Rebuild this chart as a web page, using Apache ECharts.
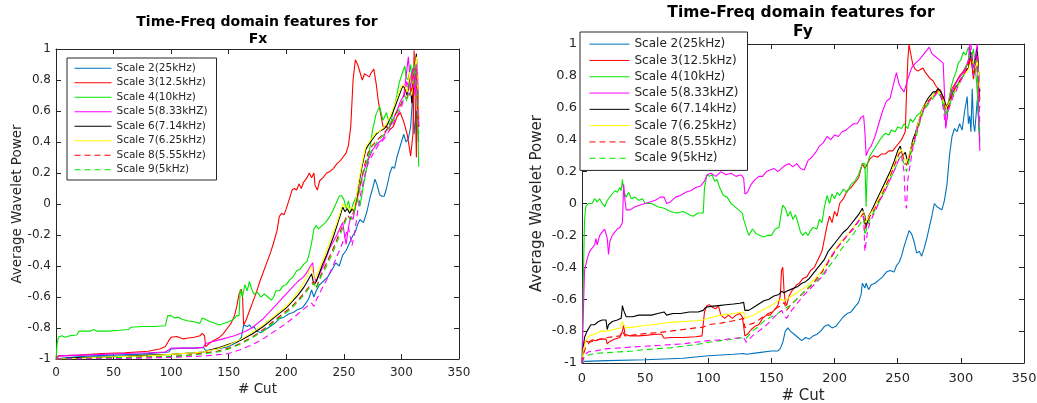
<!DOCTYPE html>
<html><head><meta charset="utf-8">
<script src="https://cdn.jsdelivr.net/npm/echarts@6/dist/echarts.min.js"></script>
<style>html,body{margin:0;padding:0;background:#fff}#c{width:1037px;height:403px}</style>
</head><body><div id="c"></div>
<script>
const legendNames = ['Scale 2(25kHz)','Scale 3(12.5kHz)','Scale 4(10kHz)','Scale 5(8.33kHZ)','Scale 6(7.14kHz)','Scale 7(6.25kHz)','Scale 8(5.55kHz)','Scale 9(5kHz)'];
const extraName = 'Scale 10';
const xTicks = [0,50,100,150,200,250,300,350];
const yTicks = [-1,-0.8,-0.6,-0.4,-0.2,0,0.2,0.4,0.6,0.8,1];
const titles = ['Time-Freq domain features for', 'Fx', 'Fy'];
const xName = '# Cut';
const yName = 'Average Wavelet Power';

// ---------- Fx ----------
const fx2 = [[0,-1],[10,-0.99],[30,-0.98],[50,-0.975],[70,-0.97],[90,-0.96],[98,-0.955],[100,-0.935],[110,-0.93],[120,-0.93],[128,-0.925],[130,-0.945],[140,-0.935],[150,-0.92],[155,-0.9],[158,-0.89],[161,-0.86],[163,-0.78],[166,-0.79],[168,-0.78],[170,-0.8],[172,-0.79],[174,-0.82],[178,-0.83],[182,-0.81],[186,-0.79],[190,-0.77],[194,-0.74],[198,-0.73],[202,-0.71],[206,-0.7],[210,-0.68],[214,-0.67],[218,-0.63],[220,-0.6],[222,-0.555],[224,-0.6],[226,-0.56],[229,-0.52],[232,-0.5],[236,-0.47],[240,-0.42],[243,-0.38],[246,-0.4],[249,-0.33],[252,-0.3],[255,-0.25],[258,-0.2],[260,-0.18],[262,-0.13],[264,-0.1],[267,-0.12],[270,-0.05],[273,0.05],[275,0.1],[277,0.16],[279,0.12],[281,0.06],[283,0.05],[285,0.05],[287,0.1],[290,0.2],[292,0.24],[294,0.23],[296,0.3],[298,0.35],[300,0.4],[302,0.45],[304,0.4],[306,0.42],[308,0.5],[310,0.72],[311,0.45],[313,0.6],[315,0.4]];
const fx3 = [[0,-1],[2,-0.98],[20,-0.975],[40,-0.965],[60,-0.96],[80,-0.95],[90,-0.935],[95,-0.92],[98,-0.88],[100,-0.86],[105,-0.855],[110,-0.87],[115,-0.865],[120,-0.86],[125,-0.85],[127,-0.835],[129,-0.85],[130,-0.92],[133,-0.9],[137,-0.88],[141,-0.865],[145,-0.84],[149,-0.8],[152,-0.77],[155,-0.72],[157,-0.66],[159,-0.58],[161,-0.55],[162,-0.6],[163,-0.78],[165,-0.75],[168,-0.69],[171,-0.63],[174,-0.57],[177,-0.5],[180,-0.44],[183,-0.38],[186,-0.32],[189,-0.25],[192,-0.17],[194,-0.08],[196,-0.06],[198,-0.07],[200,-0.03],[203,0.04],[205,0.09],[207,0.1],[209,0.09],[211,0.13],[213,0.1],[215,0.14],[218,0.17],[220,0.2],[222,0.17],[224,0.2],[225,0.12],[227,0.09],[229,0.15],[232,0.17],[235,0.2],[238,0.21],[241,0.23],[244,0.26],[247,0.28],[249,0.3],[252,0.33],[254,0.38],[256,0.5],[258,0.8],[260,0.93],[262,0.9],[264,0.85],[266,0.8],[268,0.84],[270,0.83],[272,0.82],[274,0.85],[276,0.87],[278,0.78],[280,0.66],[282,0.58],[284,0.5],[287,0.5],[290,0.48],[293,0.5],[296,0.56],[299,0.59],[302,0.53],[305,0.45],[308,0.31],[310,0.45],[311,0.99],[312,0.65],[313,0.3],[314,0.85],[315,0.55]];
const fx4 = [[0,-1],[1,-0.9],[2,-0.86],[5,-0.85],[8,-0.86],[12,-0.85],[18,-0.845],[20,-0.82],[25,-0.82],[30,-0.82],[33,-0.81],[35,-0.82],[45,-0.82],[55,-0.815],[63,-0.81],[65,-0.795],[75,-0.79],[85,-0.79],[95,-0.785],[97,-0.72],[100,-0.72],[103,-0.735],[106,-0.73],[110,-0.745],[115,-0.755],[120,-0.76],[125,-0.77],[127,-0.735],[130,-0.745],[134,-0.76],[138,-0.77],[142,-0.78],[146,-0.77],[150,-0.76],[154,-0.745],[157,-0.72],[159,-0.72],[160,-0.55],[162,-0.6],[164,-0.52],[166,-0.56],[168,-0.5],[170,-0.55],[172,-0.58],[175,-0.57],[178,-0.6],[181,-0.58],[184,-0.6],[187,-0.62],[189,-0.6],[191,-0.56],[194,-0.56],[197,-0.53],[200,-0.52],[203,-0.49],[206,-0.47],[209,-0.43],[212,-0.42],[215,-0.39],[218,-0.37],[220,-0.32],[222,-0.25],[224,-0.16],[226,-0.14],[228,-0.16],[231,-0.14],[234,-0.12],[237,-0.09],[240,-0.05],[243,0.0],[246,0.05],[248,0.055],[250,0.03],[252,-0.03],[254,0.02],[256,-0.05],[258,0.0],[261,0.05],[264,-0.015],[267,0.12],[270,0.24],[273,0.38],[275,0.48],[278,0.58],[281,0.63],[284,0.54],[287,0.59],[290,0.5],[293,0.6],[296,0.7],[298,0.78],[301,0.85],[303,0.89],[304,0.82],[306,0.8],[308,0.9],[310,0.75],[312,0.9],[314,0.6],[315,0.24]];
const fx5 = [[0,-1],[3,-0.98],[20,-0.975],[40,-0.97],[60,-0.965],[80,-0.96],[95,-0.955],[98,-0.94],[100,-0.93],[110,-0.93],[120,-0.93],[128,-0.925],[130,-0.9],[135,-0.89],[140,-0.88],[145,-0.87],[150,-0.86],[155,-0.85],[160,-0.835],[165,-0.82],[170,-0.8],[175,-0.77],[180,-0.74],[185,-0.7],[190,-0.66],[195,-0.62],[200,-0.58],[205,-0.54],[210,-0.5],[215,-0.47],[218,-0.44],[221,-0.4],[223,-0.38],[224,-0.47],[226,-0.5],[229,-0.45],[232,-0.4],[235,-0.34],[238,-0.28],[241,-0.24],[244,-0.2],[247,-0.15],[249,-0.12],[251,-0.22],[252,-0.26],[254,-0.15],[256,-0.08],[258,-0.1],[260,-0.02],[263,0.08],[266,0.18],[269,0.25],[272,0.3],[275,0.35],[278,0.38],[281,0.4],[284,0.42],[287,0.48],[290,0.5],[293,0.55],[296,0.6],[299,0.66],[302,0.7],[304,0.82],[306,0.95],[308,0.75],[310,0.88],[312,0.7],[313,0.95],[315,0.5]];
const fx6 = [[0,-1],[20,-0.99],[50,-0.985],[80,-0.975],[100,-0.97],[120,-0.96],[128,-0.955],[130,-0.95],[140,-0.93],[150,-0.905],[160,-0.88],[170,-0.84],[180,-0.79],[190,-0.73],[200,-0.67],[205,-0.63],[210,-0.59],[215,-0.54],[219,-0.49],[222,-0.45],[224,-0.52],[226,-0.5],[229,-0.44],[232,-0.38],[235,-0.33],[238,-0.27],[241,-0.21],[244,-0.14],[247,-0.07],[249,-0.02],[251,-0.05],[253,-0.03],[255,-0.06],[257,-0.03],[259,-0.05],[261,0.03],[263,0.13],[266,0.25],[269,0.35],[272,0.39],[275,0.42],[278,0.45],[281,0.47],[284,0.48],[287,0.5],[290,0.55],[293,0.6],[296,0.66],[299,0.72],[301,0.76],[303,0.75],[305,0.7],[307,0.84],[309,0.65],[311,0.85],[313,0.97],[315,0.5]];
const fx7 = [[0,-1],[20,-0.995],[50,-0.985],[80,-0.98],[100,-0.97],[120,-0.96],[128,-0.955],[130,-0.95],[140,-0.935],[150,-0.91],[160,-0.875],[170,-0.83],[180,-0.78],[190,-0.72],[200,-0.66],[205,-0.62],[210,-0.57],[215,-0.51],[219,-0.45],[222,-0.4],[224,-0.48],[226,-0.47],[229,-0.41],[232,-0.36],[235,-0.3],[238,-0.24],[241,-0.18],[244,-0.12],[247,-0.05],[249,0.0],[251,-0.02],[253,-0.01],[255,-0.04],[257,-0.02],[259,-0.04],[261,0.05],[263,0.15],[266,0.27],[269,0.37],[272,0.4],[275,0.43],[278,0.46],[281,0.47],[284,0.49],[287,0.52],[290,0.56],[293,0.62],[296,0.68],[299,0.74],[301,0.77],[303,0.76],[305,0.72],[307,0.85],[309,0.7],[311,0.85],[313,0.95],[315,0.55]];
const fx8 = [[0,-1],[30,-0.995],[60,-0.99],[90,-0.985],[110,-0.98],[130,-0.96],[140,-0.95],[150,-0.93],[160,-0.9],[170,-0.86],[180,-0.81],[190,-0.75],[200,-0.69],[205,-0.66],[210,-0.62],[215,-0.58],[220,-0.53],[224,-0.5],[226,-0.54],[230,-0.46],[235,-0.38],[240,-0.3],[245,-0.21],[250,-0.12],[253,-0.07],[256,-0.1],[259,-0.04],[262,0.05],[265,0.15],[268,0.25],[271,0.33],[275,0.38],[280,0.42],[285,0.46],[290,0.5],[295,0.58],[300,0.65],[303,0.72],[305,0.68],[307,0.78],[309,0.72],[311,0.88],[313,0.8],[315,0.5]];
const fx9 = [[0,-1],[30,-0.995],[60,-0.99],[90,-0.985],[110,-0.98],[130,-0.965],[140,-0.955],[150,-0.935],[160,-0.905],[170,-0.865],[180,-0.82],[190,-0.76],[200,-0.7],[205,-0.67],[210,-0.63],[215,-0.59],[220,-0.54],[224,-0.51],[226,-0.55],[230,-0.47],[235,-0.4],[240,-0.32],[245,-0.23],[250,-0.14],[253,-0.08],[256,-0.1],[259,-0.05],[262,0.03],[265,0.13],[268,0.23],[271,0.3],[275,0.36],[280,0.41],[285,0.45],[290,0.5],[295,0.57],[300,0.64],[303,0.7],[305,0.66],[307,0.77],[309,0.8],[311,0.9],[313,0.75],[315,0.45]];
const fx10 = [[0,-1],[50,-0.998],[100,-0.99],[130,-0.98],[150,-0.965],[160,-0.94],[170,-0.91],[180,-0.87],[190,-0.82],[200,-0.77],[210,-0.71],[218,-0.66],[222,-0.64],[224,-0.66],[226,-0.62],[230,-0.56],[235,-0.49],[240,-0.41],[245,-0.32],[250,-0.23],[254,-0.15],[257,-0.27],[259,-0.2],[262,-0.05],[265,0.08],[268,0.18],[271,0.26],[275,0.32],[280,0.38],[285,0.42],[290,0.48],[295,0.55],[300,0.62],[303,0.72],[305,0.8],[307,0.7],[309,0.85],[311,0.75],[313,0.9],[315,0.5]];

// ---------- Fy ----------
const fy2 = [[0,-1],[2,-0.99],[20,-0.985],[50,-0.98],[80,-0.97],[100,-0.955],[110,-0.95],[120,-0.945],[128,-0.94],[130,-0.945],[140,-0.935],[150,-0.925],[155,-0.925],[157,-0.91],[159,-0.87],[161,-0.8],[163,-0.78],[165,-0.8],[168,-0.82],[171,-0.84],[174,-0.86],[177,-0.84],[180,-0.85],[183,-0.83],[186,-0.82],[189,-0.8],[192,-0.77],[195,-0.76],[198,-0.78],[201,-0.77],[204,-0.74],[207,-0.71],[210,-0.69],[213,-0.68],[216,-0.65],[219,-0.62],[221,-0.57],[222,-0.5],[224,-0.53],[225,-0.5],[227,-0.54],[229,-0.51],[232,-0.5],[235,-0.48],[238,-0.46],[241,-0.43],[244,-0.42],[247,-0.43],[249,-0.39],[251,-0.37],[253,-0.33],[255,-0.27],[257,-0.22],[259,-0.17],[261,-0.19],[263,-0.24],[265,-0.31],[267,-0.3],[269,-0.33],[271,-0.28],[273,-0.22],[275,-0.15],[277,-0.08],[279,0.0],[281,-0.02],[283,-0.03],[285,-0.04],[287,0.02],[289,0.12],[291,0.3],[293,0.42],[295,0.47],[297,0.45],[299,0.5],[301,0.46],[303,0.58],[305,0.67],[306,0.5],[307,0.55],[308,0.45],[309,0.72],[310,0.5],[311,0.45],[313,0.65],[315,0.4]];
const fy3 = [[0,-1],[1,-0.9],[3,-0.86],[5,-0.87],[8,-0.855],[11,-0.86],[14,-0.85],[17,-0.85],[19,-0.85],[20,-0.88],[22,-0.865],[26,-0.85],[30,-0.84],[32,-0.8],[33,-0.76],[34,-0.82],[38,-0.83],[45,-0.83],[52,-0.825],[58,-0.82],[63,-0.82],[65,-0.845],[70,-0.84],[80,-0.84],[90,-0.835],[95,-0.83],[97,-0.68],[99,-0.64],[101,-0.635],[103,-0.65],[106,-0.66],[108,-0.64],[110,-0.7],[113,-0.72],[116,-0.7],[119,-0.72],[122,-0.7],[125,-0.69],[127,-0.71],[128,-0.7],[129,-0.83],[131,-0.82],[134,-0.79],[137,-0.77],[140,-0.76],[143,-0.72],[146,-0.7],[149,-0.7],[152,-0.67],[155,-0.64],[157,-0.58],[158,-0.42],[159,-0.4],[160,-0.55],[161,-0.62],[162,-0.64],[164,-0.58],[166,-0.55],[168,-0.53],[170,-0.51],[172,-0.5],[175,-0.47],[178,-0.46],[181,-0.42],[184,-0.4],[187,-0.35],[190,-0.3],[192,-0.22],[194,-0.14],[196,-0.08],[198,-0.12],[200,-0.05],[202,-0.08],[204,0.0],[207,0.03],[210,0.08],[213,0.1],[216,0.13],[219,0.16],[222,0.25],[224,0.22],[226,0.25],[228,0.28],[231,0.3],[234,0.29],[237,0.31],[240,0.31],[243,0.33],[246,0.33],[250,0.37],[253,0.4],[256,0.45],[257,0.7],[258,0.9],[259,1.0],[260,0.95],[262,0.87],[264,0.84],[266,0.83],[268,0.84],[270,0.85],[272,0.82],[274,0.8],[276,0.78],[278,0.77],[280,0.74],[282,0.72],[284,0.71],[286,0.66],[288,0.6],[290,0.63],[293,0.72],[296,0.76],[299,0.8],[302,0.83],[304,0.86],[306,0.88],[308,0.92],[310,0.78],[311,0.85],[313,0.95],[315,0.65]];
const fy4 = [[0,-1],[1,-0.5],[2,-0.1],[3,-0.02],[5,0.0],[8,0.0],[10,0.03],[12,0.01],[14,0.03],[16,0.0],[18,-0.02],[20,0.02],[23,0.05],[26,0.08],[28,0.07],[30,0.1],[31,0.08],[32,0.15],[33,0.08],[35,0.04],[37,0.07],[39,0.03],[42,0.04],[45,0.02],[48,0.03],[50,0.0],[55,0.0],[60,-0.02],[65,-0.03],[70,-0.05],[75,-0.06],[80,-0.05],[85,-0.07],[88,-0.08],[92,-0.06],[96,-0.06],[97,0.1],[99,0.18],[101,0.17],[103,0.18],[105,0.14],[107,0.15],[109,0.1],[112,0.05],[115,0.04],[118,0.0],[121,-0.02],[124,-0.04],[127,-0.06],[128,-0.1],[130,-0.15],[132,-0.2],[135,-0.16],[138,-0.19],[141,-0.2],[144,-0.21],[147,-0.2],[150,-0.2],[153,-0.16],[156,-0.15],[158,-0.05],[159,-0.01],[161,-0.03],[163,-0.08],[165,-0.05],[167,-0.1],[169,-0.07],[171,-0.12],[173,-0.18],[175,-0.2],[177,-0.18],[179,-0.2],[181,-0.17],[183,-0.15],[186,-0.16],[188,-0.1],[190,-0.12],[192,-0.02],[194,0.05],[196,0.0],[198,0.06],[200,0.03],[202,0.07],[204,0.05],[207,0.09],[210,0.07],[213,0.12],[216,0.14],[219,0.18],[222,0.25],[224,0.25],[225,-0.02],[226,0.25],[228,0.3],[232,0.35],[236,0.4],[240,0.44],[243,0.43],[245,0.46],[248,0.45],[250,0.48],[253,0.47],[255,0.5],[258,0.47],[260,0.53],[262,0.51],[265,0.55],[268,0.57],[270,0.6],[272,0.6],[275,0.65],[278,0.68],[280,0.7],[282,0.7],[284,0.68],[286,0.62],[288,0.55],[290,0.62],[292,0.72],[294,0.78],[296,0.82],[298,0.88],[300,0.9],[302,0.95],[304,0.93],[306,0.98],[308,0.9],[310,0.97],[312,0.8],[313,0.7],[315,0.38]];
const fy5 = [[0,-1],[1,-0.7],[2,-0.42],[4,-0.35],[6,-0.3],[8,-0.28],[10,-0.26],[11,-0.22],[12,-0.26],[14,-0.2],[16,-0.18],[18,-0.16],[19,-0.16],[20,-0.22],[21,-0.32],[22,-0.24],[24,-0.2],[26,-0.18],[28,-0.16],[30,-0.15],[31,-0.14],[32,-0.12],[33,0.12],[34,0.02],[35,-0.04],[38,-0.04],[42,-0.02],[46,-0.01],[50,0.0],[54,0.01],[58,0.02],[62,0.04],[65,0.04],[67,0.0],[70,0.01],[74,0.04],[78,0.05],[82,0.07],[86,0.08],[90,0.1],[94,0.11],[97,0.14],[99,0.18],[102,0.19],[106,0.17],[110,0.2],[114,0.18],[118,0.19],[122,0.17],[126,0.18],[128,0.16],[129,0.06],[131,0.07],[134,0.12],[137,0.15],[140,0.17],[143,0.17],[146,0.2],[149,0.21],[152,0.22],[155,0.2],[158,0.22],[161,0.24],[164,0.25],[167,0.23],[170,0.25],[173,0.22],[176,0.21],[179,0.27],[182,0.29],[185,0.32],[188,0.36],[191,0.38],[194,0.42],[197,0.4],[200,0.43],[203,0.42],[206,0.45],[209,0.46],[212,0.48],[215,0.5],[218,0.5],[221,0.54],[223,0.55],[224,0.45],[225,0.3],[227,0.34],[229,0.36],[232,0.42],[235,0.5],[238,0.58],[241,0.64],[244,0.66],[247,0.76],[249,0.82],[251,0.75],[253,0.72],[255,0.7],[258,0.78],[261,0.85],[264,0.88],[267,0.9],[270,0.93],[273,0.96],[275,0.98],[277,0.94],[280,0.92],[283,0.9],[286,0.88],[287,0.7],[288,0.47],[290,0.6],[292,0.68],[294,0.72],[296,0.75],[298,0.78],[300,0.8],[302,0.82],[304,0.85],[306,0.9],[307,1.0],[309,0.85],[311,0.9],[313,1.0],[314,0.6],[315,0.33]];
const fy6 = [[0,-1],[1,-0.9],[2,-0.84],[4,-0.8],[7,-0.76],[10,-0.76],[13,-0.74],[16,-0.73],[19,-0.73],[20,-0.79],[21,-0.76],[24,-0.74],[28,-0.73],[31,-0.72],[32,-0.64],[33,-0.67],[35,-0.71],[40,-0.71],[45,-0.7],[50,-0.7],[55,-0.7],[60,-0.69],[65,-0.68],[67,-0.7],[72,-0.69],[78,-0.69],[85,-0.68],[92,-0.68],[96,-0.67],[98,-0.65],[102,-0.645],[108,-0.64],[114,-0.635],[120,-0.63],[125,-0.625],[128,-0.62],[129,-0.67],[132,-0.67],[136,-0.65],[140,-0.63],[144,-0.61],[148,-0.6],[152,-0.58],[156,-0.57],[158,-0.55],[160,-0.56],[162,-0.55],[165,-0.54],[168,-0.53],[171,-0.52],[174,-0.5],[177,-0.49],[180,-0.47],[183,-0.44],[186,-0.41],[189,-0.38],[192,-0.35],[195,-0.3],[198,-0.27],[201,-0.24],[204,-0.21],[207,-0.18],[210,-0.16],[213,-0.13],[216,-0.1],[219,-0.07],[222,-0.03],[223,-0.02],[224,-0.08],[225,-0.15],[227,-0.08],[229,-0.05],[232,0.0],[235,0.05],[238,0.1],[241,0.15],[244,0.2],[247,0.26],[250,0.33],[252,0.36],[254,0.3],[256,0.32],[258,0.26],[260,0.33],[262,0.4],[264,0.44],[266,0.5],[268,0.55],[270,0.6],[272,0.63],[274,0.66],[276,0.68],[278,0.7],[280,0.7],[282,0.72],[284,0.7],[286,0.67],[288,0.62],[290,0.6],[292,0.66],[294,0.7],[296,0.73],[298,0.75],[300,0.78],[302,0.8],[304,0.83],[306,0.85],[308,0.95],[310,0.85],[312,0.92],[313,0.97],[315,0.7]];
const fy7 = [[0,-1],[1,-0.92],[3,-0.86],[6,-0.83],[10,-0.82],[15,-0.8],[20,-0.8],[25,-0.79],[30,-0.78],[32,-0.74],[34,-0.78],[40,-0.775],[50,-0.765],[60,-0.755],[70,-0.745],[80,-0.74],[90,-0.735],[96,-0.73],[100,-0.72],[110,-0.7],[120,-0.69],[128,-0.68],[129,-0.72],[132,-0.71],[136,-0.7],[140,-0.68],[145,-0.66],[150,-0.64],[155,-0.61],[158,-0.6],[160,-0.61],[162,-0.6],[166,-0.58],[170,-0.56],[174,-0.54],[178,-0.52],[182,-0.49],[186,-0.46],[190,-0.42],[194,-0.37],[198,-0.32],[202,-0.27],[206,-0.23],[210,-0.2],[214,-0.16],[218,-0.12],[221,-0.08],[223,-0.05],[224,-0.12],[226,-0.1],[228,-0.07],[232,-0.02],[236,0.05],[240,0.11],[244,0.18],[248,0.26],[251,0.32],[253,0.34],[255,0.28],[257,0.26],[259,0.3],[261,0.36],[264,0.42],[266,0.5],[268,0.55],[270,0.6],[272,0.62],[275,0.65],[278,0.68],[280,0.69],[282,0.7],[284,0.68],[286,0.65],[288,0.6],[290,0.62],[292,0.65],[294,0.69],[296,0.72],[298,0.74],[300,0.77],[302,0.8],[304,0.82],[306,0.84],[308,0.9],[310,0.88],[312,0.85],[313,0.9],[315,0.72]];
const fy8 = [[0,-1],[1,-0.95],[3,-0.9],[6,-0.87],[10,-0.86],[15,-0.85],[20,-0.84],[25,-0.835],[30,-0.83],[32,-0.8],[34,-0.83],[40,-0.825],[50,-0.815],[60,-0.81],[70,-0.8],[80,-0.79],[90,-0.78],[96,-0.775],[100,-0.76],[110,-0.75],[120,-0.735],[128,-0.72],[129,-0.78],[132,-0.76],[136,-0.75],[140,-0.73],[145,-0.7],[150,-0.68],[155,-0.65],[158,-0.64],[160,-0.62],[162,-0.67],[166,-0.63],[170,-0.6],[174,-0.57],[178,-0.54],[182,-0.51],[186,-0.47],[190,-0.43],[194,-0.38],[198,-0.33],[202,-0.28],[206,-0.24],[210,-0.2],[214,-0.16],[218,-0.12],[221,-0.08],[223,-0.06],[224,-0.16],[226,-0.12],[228,-0.08],[232,-0.03],[236,0.03],[240,0.1],[244,0.17],[248,0.25],[251,0.31],[253,0.33],[255,0.27],[257,0.24],[259,0.28],[261,0.35],[264,0.42],[266,0.48],[268,0.54],[270,0.58],[272,0.62],[275,0.65],[278,0.67],[280,0.69],[282,0.71],[284,0.68],[286,0.65],[288,0.58],[290,0.6],[292,0.65],[294,0.7],[296,0.73],[298,0.76],[300,0.78],[302,0.8],[304,0.84],[306,0.86],[308,0.92],[310,0.8],[312,0.9],[313,0.85],[315,0.6]];
const fy9 = [[0,-1],[2,-0.96],[5,-0.95],[10,-0.94],[20,-0.935],[30,-0.93],[40,-0.925],[50,-0.915],[60,-0.91],[70,-0.905],[80,-0.895],[90,-0.885],[100,-0.87],[110,-0.86],[120,-0.85],[128,-0.84],[130,-0.845],[135,-0.8],[140,-0.77],[145,-0.73],[150,-0.71],[155,-0.69],[160,-0.66],[165,-0.64],[170,-0.6],[175,-0.56],[180,-0.52],[185,-0.49],[190,-0.45],[195,-0.4],[200,-0.35],[205,-0.29],[210,-0.24],[215,-0.19],[220,-0.13],[223,-0.09],[224,-0.2],[226,-0.14],[228,-0.1],[232,-0.04],[236,0.02],[240,0.08],[244,0.15],[248,0.22],[251,0.28],[253,0.3],[255,0.25],[257,0.2],[259,0.27],[261,0.33],[264,0.4],[266,0.46],[268,0.52],[270,0.57],[272,0.6],[275,0.63],[278,0.66],[280,0.68],[282,0.69],[284,0.67],[286,0.63],[288,0.56],[290,0.58],[292,0.64],[294,0.68],[296,0.72],[298,0.75],[300,0.78],[302,0.8],[304,0.86],[306,0.9],[308,0.95],[310,0.85],[312,0.9],[313,0.8],[315,0.45]];
const fy10 = [[0,-1],[2,-0.95],[5,-0.93],[10,-0.925],[20,-0.91],[30,-0.905],[40,-0.9],[50,-0.895],[60,-0.89],[70,-0.885],[80,-0.88],[90,-0.87],[100,-0.86],[110,-0.855],[120,-0.845],[128,-0.84],[130,-0.87],[135,-0.83],[140,-0.8],[145,-0.77],[150,-0.73],[155,-0.69],[158,-0.67],[160,-0.7],[162,-0.72],[166,-0.67],[170,-0.63],[175,-0.58],[180,-0.54],[185,-0.5],[190,-0.46],[193,-0.43],[195,-0.36],[200,-0.3],[205,-0.25],[210,-0.2],[215,-0.16],[220,-0.1],[223,-0.08],[224,-0.3],[226,-0.18],[228,-0.12],[232,-0.05],[236,0.02],[240,0.08],[244,0.15],[248,0.22],[251,0.28],[253,0.3],[255,0.2],[256,0.0],[257,-0.03],[258,0.15],[260,0.25],[262,0.35],[264,0.42],[266,0.48],[268,0.53],[270,0.58],[272,0.61],[275,0.64],[278,0.67],[280,0.68],[282,0.7],[284,0.68],[286,0.6],[288,0.48],[290,0.58],[292,0.63],[294,0.67],[296,0.7],[298,0.74],[300,0.77],[302,0.8],[304,0.85],[306,0.9],[308,1.0],[310,0.8],[312,0.92],[313,0.98],[315,0.5]];

const fxData = [fx2,fx3,fx4,fx5,fx6,fx7,fx8,fx9,fx10];
const fyData = [fy2,fy3,fy4,fy5,fy6,fy7,fy8,fy9,fy10];
const colors = ['#0072BD','#FF0000','#00E600','#FF00FF','#000000','#FFFF00','#FF0000','#00E600','#FF00FF'];
const dashed = [false,false,false,false,false,false,true,true,true];

const FONT = '"DejaVu Sans", sans-serif';
const AX = '#262626';

const panels = [
  {grid:{left:56, top:49, width:403, height:310}, tick:12, name:13.5, xGap:23, yGap:32, lblMargin:8, data:fxData},
  {grid:{left:582, top:44, width:442, height:319}, tick:13, name:15, xGap:26, yGap:37, lblMargin:9, data:fyData}
];

const grids = [], xAxes = [], yAxes = [], series = [];
panels.forEach((p, pi) => {
  grids.push(Object.assign({containLabel:false, outerBoundsMode:'none'}, p.grid));
  const common = {min:0, max:350, interval:50, gridIndex:pi,
    axisLine:{show:true, onZero:false, lineStyle:{color:AX, width:1}},
    axisTick:{show:true, inside:true, length:5, lineStyle:{color:AX}},
    splitLine:{show:false}};
  xAxes.push(Object.assign({}, common, {type:'value', position:'bottom', name:xName, nameLocation:'middle', nameGap:p.xGap,
    nameMoveOverlap:false,
    nameTextStyle:{fontFamily:FONT, fontSize:p.name, color:AX},
    axisLabel:{fontFamily:FONT, fontSize:p.tick, color:AX, margin:p.lblMargin}}));
  xAxes.push(Object.assign({}, common, {type:'value', position:'top', axisLabel:{show:false}}));
  const ycommon = {min:-1, max:1, interval:0.2, gridIndex:pi,
    axisLine:{show:true, onZero:false, lineStyle:{color:AX, width:1}},
    axisTick:{show:true, inside:true, length:5, lineStyle:{color:AX}},
    splitLine:{show:false}};
  yAxes.push(Object.assign({}, ycommon, {type:'value', position:'left', name:yName, nameLocation:'middle', nameGap:p.yGap,
    nameMoveOverlap:false,
    nameTextStyle:{fontFamily:FONT, fontSize:p.name, color:AX},
    axisLabel:{fontFamily:FONT, fontSize:p.tick, color:AX, margin:5,
      formatter: v => String(Math.round(v*10)/10)}}));
  yAxes.push(Object.assign({}, ycommon, {type:'value', position:'right', axisLabel:{show:false}}));
  p.data.forEach((d, i) => {
    series.push({
      type:'line', name: i < 8 ? legendNames[i] : extraName,
      xAxisIndex: pi*2, yAxisIndex: pi*2, data:d,
      symbol:'none', showSymbol:false, silent:true, clip:true,
      color: colors[i],
      lineStyle:{color:colors[i], width:1.1, type: dashed[i] ? [6,4] : 'solid'},
      z: 2 + i
    });
  });
});

const legendCommon = {data:legendNames, orient:'vertical', selectedMode:false,
  backgroundColor:'#fff', borderColor:AX, borderWidth:1, borderRadius:0,
  itemStyle:{color:'rgba(0,0,0,0)', borderWidth:0, opacity:0},
  lineStyle:{width:1}};

const chart = echarts.init(document.getElementById('c'), null, {renderer:'canvas'});
chart.setOption({
  animation:false,
  backgroundColor:'#fff',
  grid:grids, xAxis:xAxes, yAxis:yAxes, series:series,
  legend:[
    Object.assign({}, legendCommon, {left:67, top:58, padding:[3,9,3,7],
     itemWidth:37, itemHeight:14, itemGap:0,
     textStyle:{fontFamily:FONT, fontSize:10.5, lineHeight:14.5, color:AX}}),
    Object.assign({}, legendCommon, {left:580, top:32, padding:[4,9,4,9],
     itemWidth:40, itemHeight:16, itemGap:0,
     textStyle:{fontFamily:FONT, fontSize:12, lineHeight:16.3, color:AX}})
  ],
  graphic:[
    {type:'text', x:257, y:22, style:{text:titles[0], font:'bold 14px "DejaVu Sans"', fill:'#000', textAlign:'center', textVerticalAlign:'middle'}},
    {type:'text', x:258, y:39, style:{text:titles[1], font:'bold 14px "DejaVu Sans"', fill:'#000', textAlign:'center', textVerticalAlign:'middle'}},
    {type:'text', x:801, y:13, style:{text:titles[0], font:'bold 15.5px "DejaVu Sans"', fill:'#000', textAlign:'center', textVerticalAlign:'middle'}},
    {type:'text', x:803, y:32, style:{text:titles[2], font:'bold 15.5px "DejaVu Sans"', fill:'#000', textAlign:'center', textVerticalAlign:'middle'}}
  ]
});
</script></body></html>
